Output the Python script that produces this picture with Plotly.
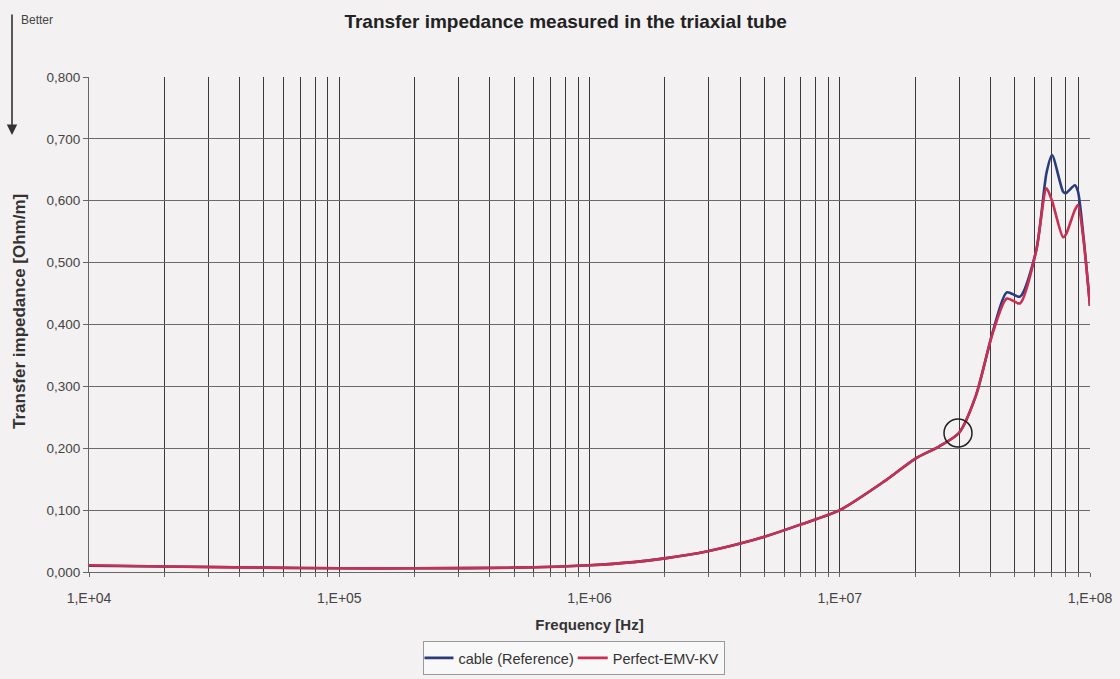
import plotly.graph_objects as go

# ---- data ----
freq_hz = [1e4, 2e4, 5e4, 1e5, 2e5, 5e5, 1e6, 1.5e6, 2e6, 3e6, 4e6, 5e6, 7e6, 1e7,
           1.5e7, 2e7, 2.5e7, 3e7, 3.5e7, 4.1e7, 4.65e7, 5.25e7, 6.1e7, 6.7e7, 7.05e7,
           7.8e7, 8.0e7, 8.7e7, 8.95e7, 9.4e7, 1e8]
cable_reference = [0.010, 0.009, 0.007, 0.006, 0.006, 0.007, 0.011, 0.016, 0.022, 0.034, 0.046,
                   0.057, 0.077, 0.100, 0.146, 0.183, 0.203, 0.225, 0.285, 0.390, 0.452, 0.445,
                   0.520, 0.645, 0.674, 0.615, 0.612, 0.625, 0.615, 0.545, 0.430]
perfect_emv_kv = [0.011, 0.009, 0.007, 0.006, 0.006, 0.007, 0.011, 0.016, 0.022, 0.034, 0.046,
                  0.057, 0.077, 0.100, 0.146, 0.183, 0.203, 0.225, 0.285, 0.388, 0.442, 0.434,
                  0.520, 0.620, 0.600, 0.541, 0.545, 0.585, 0.593, 0.540, 0.430]
series_names = ["cable (Reference)", "Perfect-EMV-KV"]
series_colors = ["#2a3c7c", "#c92f52"]

x_major_labels = ["1,E+04", "1,E+05", "1,E+06", "1,E+07", "1,E+08"]
y_ticks = [0.0, 0.1, 0.2, 0.3, 0.4, 0.5, 0.6, 0.7, 0.8]
y_labels = ["0,000", "0,100", "0,200", "0,300", "0,400", "0,500", "0,600", "0,700", "0,800"]

# all 1..9 gridlines per decade
x_tickvals = []
x_ticktext = []
for d in range(4, 8):
    for m in range(1, 10):
        v = m * 10 ** d
        x_tickvals.append(v)
        x_ticktext.append(x_major_labels[d - 4] if m == 1 else "")
x_tickvals.append(1e8)
x_ticktext.append(x_major_labels[-1])

fig = go.Figure()
for vals, name, col in zip([cable_reference, perfect_emv_kv], series_names, series_colors):
    fig.add_trace(go.Scatter(x=freq_hz, y=vals, mode="lines", name=name,
                             line=dict(color=col, width=2.6, shape="spline", smoothing=0.7)))

bg = "#f3f1f1"
L, R, T, B = 89, 30, 77, 107
W, H = 1120, 679
pw, ph = W - L - R, H - T - B

fig.update_layout(
    width=W, height=H,
    margin=dict(l=L, r=R, t=T, b=B, autoexpand=False),
    paper_bgcolor=bg, plot_bgcolor=bg,
    font=dict(family="Liberation Sans, Arial, sans-serif", size=13, color="#333"),
    title=dict(text="<b>Transfer impedance measured in the triaxial tube</b>",
               x=0.505, xanchor="center", y=1 - 21 / H, yanchor="middle",
               font=dict(size=19, color="#222")),
    xaxis=dict(type="log", range=[4, 8], tickvals=x_tickvals, ticktext=x_ticktext,
               showgrid=True, gridcolor="#3a3a3a", gridwidth=0.8,
               showline=True, linecolor="#666", linewidth=1, mirror=False,
               ticks="outside", ticklen=4, tickcolor="#666", ticklabelstandoff=9,
               tickfont=dict(size=14, color="#444"), automargin=False,
               title=dict(text="<b>Frequency [Hz]</b>", font=dict(size=15, color="#333"), standoff=14),
               zeroline=False),
    yaxis=dict(range=[0, 0.8], tickvals=y_ticks, ticktext=y_labels,
               showgrid=True, gridcolor="#6a6a6a", gridwidth=0.8,
               showline=True, linecolor="#666", linewidth=1,
               ticks="outside", ticklen=5, tickcolor="#666",
               tickfont=dict(size=13.5, color="#444"), automargin=False,
               zeroline=False),
    legend=dict(orientation="h", x=0.485, xanchor="center", y=-(641 - 572) / ph, yanchor="top",
                bgcolor="#f8f8f8", bordercolor="#999", borderwidth=1,
                font=dict(size=14.5, color="#333"), tracegroupgap=0,
                indentation=-6),
    showlegend=True,
)

# y-axis title (positioned like the reference, slightly above plot centre)
fig.add_annotation(xref="paper", yref="paper", x=(19 - L) / pw, y=(T + ph - 312) / ph,
                   xanchor="center", yanchor="middle", textangle=-90,
                   text="<b>Transfer impedance [Ohm/m]</b>", showarrow=False,
                   font=dict(size=17, color="#333"))

# "Better" arrow at top-left
fig.add_annotation(xref="paper", yref="paper", x=(12 - L) / pw, y=(T + ph - 135) / ph,
                   ax=0, ay=-122, text="", showarrow=True, arrowhead=2, arrowsize=1.3,
                   arrowwidth=1.6, arrowcolor="#333")
fig.add_annotation(xref="paper", yref="paper", x=(19 - L) / pw, y=(T + ph - 20) / ph,
                   xanchor="left", yanchor="middle", text="Better", showarrow=False,
                   font=dict(size=12, color="#444"))

# circle marker near 3e7
cx, cy, r = 958, 433, 14
fig.add_shape(type="circle", xref="paper", yref="paper",
              x0=(cx - r - L) / pw, x1=(cx + r - L) / pw,
              y0=(T + ph - cy - r) / ph, y1=(T + ph - cy + r) / ph,
              line=dict(color="#222", width=1.5))

fig.write_html("out.html", config={"displayModeBar": False},
               post_script="document.body.style.margin='0px';")
